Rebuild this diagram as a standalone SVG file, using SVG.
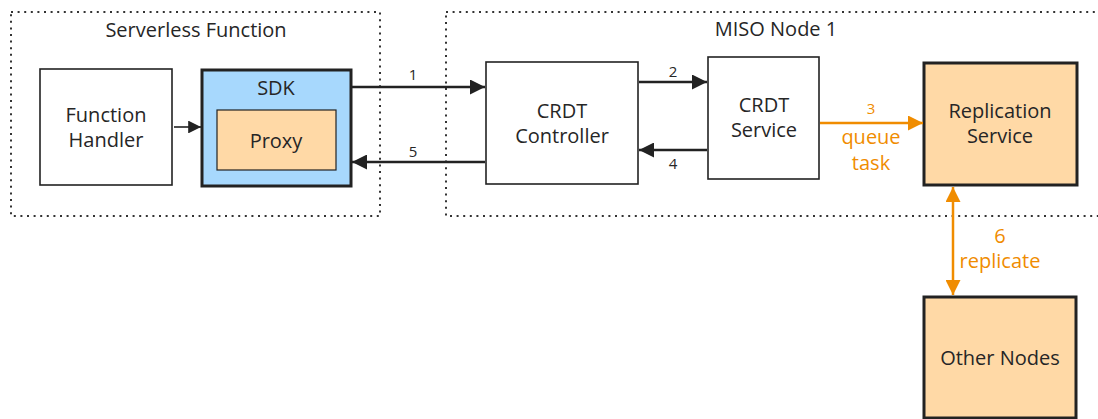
<svg xmlns="http://www.w3.org/2000/svg" width="1098" height="419" viewBox="0 0 1098 419">
  <style>
    text { font-family: "Open Sans", "Noto Sans", "Liberation Sans", sans-serif; fill: #262626; text-anchor: middle; }
    .lbl { font-size: 20px; }
    .num { font-size: 15px; }
    .orange { fill: #f08c00; }
    .group { fill: none; stroke: #333; stroke-width: 2; stroke-dasharray: 2 4.6; }
    .box { fill: #fff; stroke: #222; stroke-width: 1.6; }
    .thick { stroke: #222; stroke-width: 3; }
    .blue { fill: #a7d8fd; }
    .peach { fill: #ffd9a6; }
    .edge { fill: none; stroke: #222; stroke-width: 2.5; }
    .edge-thin { fill: none; stroke: #222; stroke-width: 1.6; }
    .edge-o { fill: none; stroke: #f08c00; stroke-width: 2.5; }
  </style>
  <defs>
    <marker id="arr" viewBox="0 0 10 10" refX="10" refY="5" markerWidth="6" markerHeight="6" markerUnits="strokeWidth" orient="auto-start-reverse">
      <path d="M0,0 L10,5 L0,10 z" fill="#222"/>
    </marker>
    <marker id="arr-s" viewBox="0 0 10 10" refX="10" refY="5" markerWidth="8" markerHeight="8" markerUnits="strokeWidth" orient="auto-start-reverse">
      <path d="M0,0 L10,5 L0,10 z" fill="#222"/>
    </marker>
    <marker id="arr-o" viewBox="0 0 10 10" refX="10" refY="5" markerWidth="6" markerHeight="6" markerUnits="strokeWidth" orient="auto-start-reverse">
      <path d="M0,0 L10,5 L0,10 z" fill="#f08c00"/>
    </marker>
  </defs>

  <!-- containers -->
  <g id="serverless-function">
    <rect class="group" x="11" y="12" width="369" height="204"/>
    <text class="lbl" x="196" y="37">Serverless Function</text>
  </g>
  <g id="miso-node-1">
    <rect class="group" x="446" y="12" width="660" height="204"/>
    <text class="lbl" x="776" y="36">MISO Node 1</text>
  </g>

  <!-- nodes -->
  <g id="function-handler">
    <rect class="box" x="40" y="69" width="132" height="116"/>
    <text class="lbl" x="106" y="122">Function</text>
    <text class="lbl" x="106" y="147">Handler</text>
  </g>
  <g id="sdk">
    <rect class="blue thick" x="202" y="70" width="149" height="116"/>
    <text class="lbl" x="276" y="95">SDK</text>
  </g>
  <g id="proxy">
    <rect class="peach" x="217" y="110" width="119" height="60" stroke="#222" stroke-width="1.2"/>
    <text class="lbl" x="276" y="148">Proxy</text>
  </g>
  <g id="crdt-controller">
    <rect class="box" x="486" y="62" width="152" height="122"/>
    <text class="lbl" x="562" y="118">CRDT</text>
    <text class="lbl" x="562" y="143">Controller</text>
  </g>
  <g id="crdt-service">
    <rect class="box" x="708" y="57" width="111" height="122"/>
    <text class="lbl" x="764" y="112">CRDT</text>
    <text class="lbl" x="764" y="137">Service</text>
  </g>
  <g id="replication-service">
    <rect class="peach thick" x="924" y="63" width="153" height="122"/>
    <text class="lbl" x="1000" y="118">Replication</text>
    <text class="lbl" x="1000" y="143">Service</text>
  </g>
  <g id="other-nodes">
    <rect class="peach thick" x="924" y="297" width="152" height="121"/>
    <text class="lbl" x="1000" y="365">Other Nodes</text>
  </g>

  <!-- connectors -->
  <g id="connectors">
    <line class="edge-thin" x1="174" y1="127" x2="201" y2="127" marker-end="url(#arr-s)"/>
    <line class="edge" x1="352" y1="87" x2="485" y2="87" marker-end="url(#arr)"/>
    <text class="num" x="413" y="80">1</text>
    <line class="edge" x1="639" y1="82" x2="707" y2="82" marker-end="url(#arr)"/>
    <text class="num" x="673" y="77">2</text>
    <line class="edge-o" x1="820" y1="123" x2="923" y2="123" marker-end="url(#arr-o)"/>
    <text class="num orange" x="871" y="114">3</text>
    <text class="lbl orange" x="871" y="144">queue</text>
    <text class="lbl orange" x="871" y="170">task</text>
    <line class="edge" x1="707" y1="150" x2="639" y2="150" marker-end="url(#arr)"/>
    <text class="num" x="673" y="169">4</text>
    <line class="edge" x1="485" y1="162" x2="352" y2="162" marker-end="url(#arr)"/>
    <text class="num" x="413" y="157">5</text>
    <line class="edge-o" x1="953" y1="187" x2="953" y2="295" marker-start="url(#arr-o)" marker-end="url(#arr-o)"/>
    <text class="lbl orange" x="1000" y="243">6</text>
    <text class="lbl orange" x="1000" y="268">replicate</text>
  </g>
</svg>
